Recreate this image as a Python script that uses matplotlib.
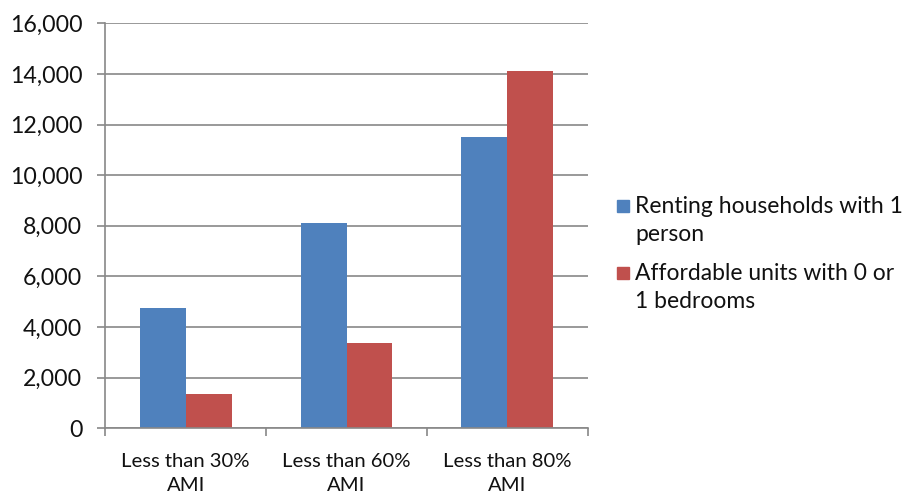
import matplotlib
matplotlib.use("Agg")
import matplotlib.pyplot as plt
import numpy as np
from matplotlib.patches import Rectangle
from matplotlib.ticker import FuncFormatter

categories = ["Less than 30%\nAMI", "Less than 60%\nAMI", "Less than 80%\nAMI"]
series_names = ["Renting households with 1\nperson", "Affordable units with 0 or\n1 bedrooms"]
renting_1_person = [4740, 8120, 11500]
affordable_0_1_bed = [1340, 3370, 14100]
y_ticks = [0, 2000, 4000, 6000, 8000, 10000, 12000, 14000, 16000]

colors = ["#4F81BD", "#C0504D"]
grid_color = "#888888"
text_color = "#111111"
font = "Lato"

fig = plt.figure(figsize=(9.12, 4.95), dpi=100)
ax = fig.add_axes([105.3 / 912, 1 - 428.3 / 495, (587.7 - 105.3) / 912, (428.3 - 23.3) / 495])

x = np.arange(len(categories))
w = 0.285
ax.bar(x - w / 2, renting_1_person, width=w, color=colors[0], zorder=3)
ax.bar(x + w / 2, affordable_0_1_bed, width=w, color=colors[1], zorder=3)

ax.set_xlim(-0.5, len(categories) - 0.5)
ax.set_ylim(0, 16000)
ax.set_yticks(y_ticks)
ax.yaxis.set_major_formatter(FuncFormatter(lambda v, p: f"{int(v):,}"))
ax.yaxis.grid(True, color=grid_color, linewidth=1.2, zorder=0)

# category boundary ticks on x, labels centred under each group
ax.set_xticks(np.arange(len(categories) + 1) - 0.5)
ax.set_xticklabels([])
ax.set_xticks(x, minor=True)
ax.set_xticklabels(categories, minor=True, fontsize=14.6, family=font, color=text_color,
                   linespacing=1.45)
ax.tick_params(axis="x", which="minor", length=0, pad=18)
ax.tick_params(axis="x", which="major", length=5.5, color=grid_color, width=1.2)
ax.tick_params(axis="y", length=5.5, color=grid_color, width=1.2, pad=11,
               labelsize=16.7, labelcolor=text_color)
for lab in ax.get_yticklabels():
    lab.set_family(font)

for side in ["top", "right"]:
    ax.spines[side].set_visible(False)
for side in ["left", "bottom"]:
    ax.spines[side].set_color(grid_color)
    ax.spines[side].set_linewidth(1.2)
    ax.spines[side].set_zorder(4)

# legend drawn beside the plot area, one text row per wrapped line
legend_baselines = [213, 280]
line_step = 28.5
for name, col, yb in zip(series_names, colors, legend_baselines):
    fig.patches.append(Rectangle((617 / 912, 1 - (yb - 1) / 495), 12 / 912, 12 / 495,
                                 transform=fig.transFigure, color=col))
    for i, line in enumerate(name.split("\n")):
        fig.text(635 / 912, 1 - (yb + i * line_step) / 495, line, fontsize=16.5,
                 family=font, color=text_color, va="baseline", ha="left")

fig.savefig("out.png", dpi=100, facecolor="white")
